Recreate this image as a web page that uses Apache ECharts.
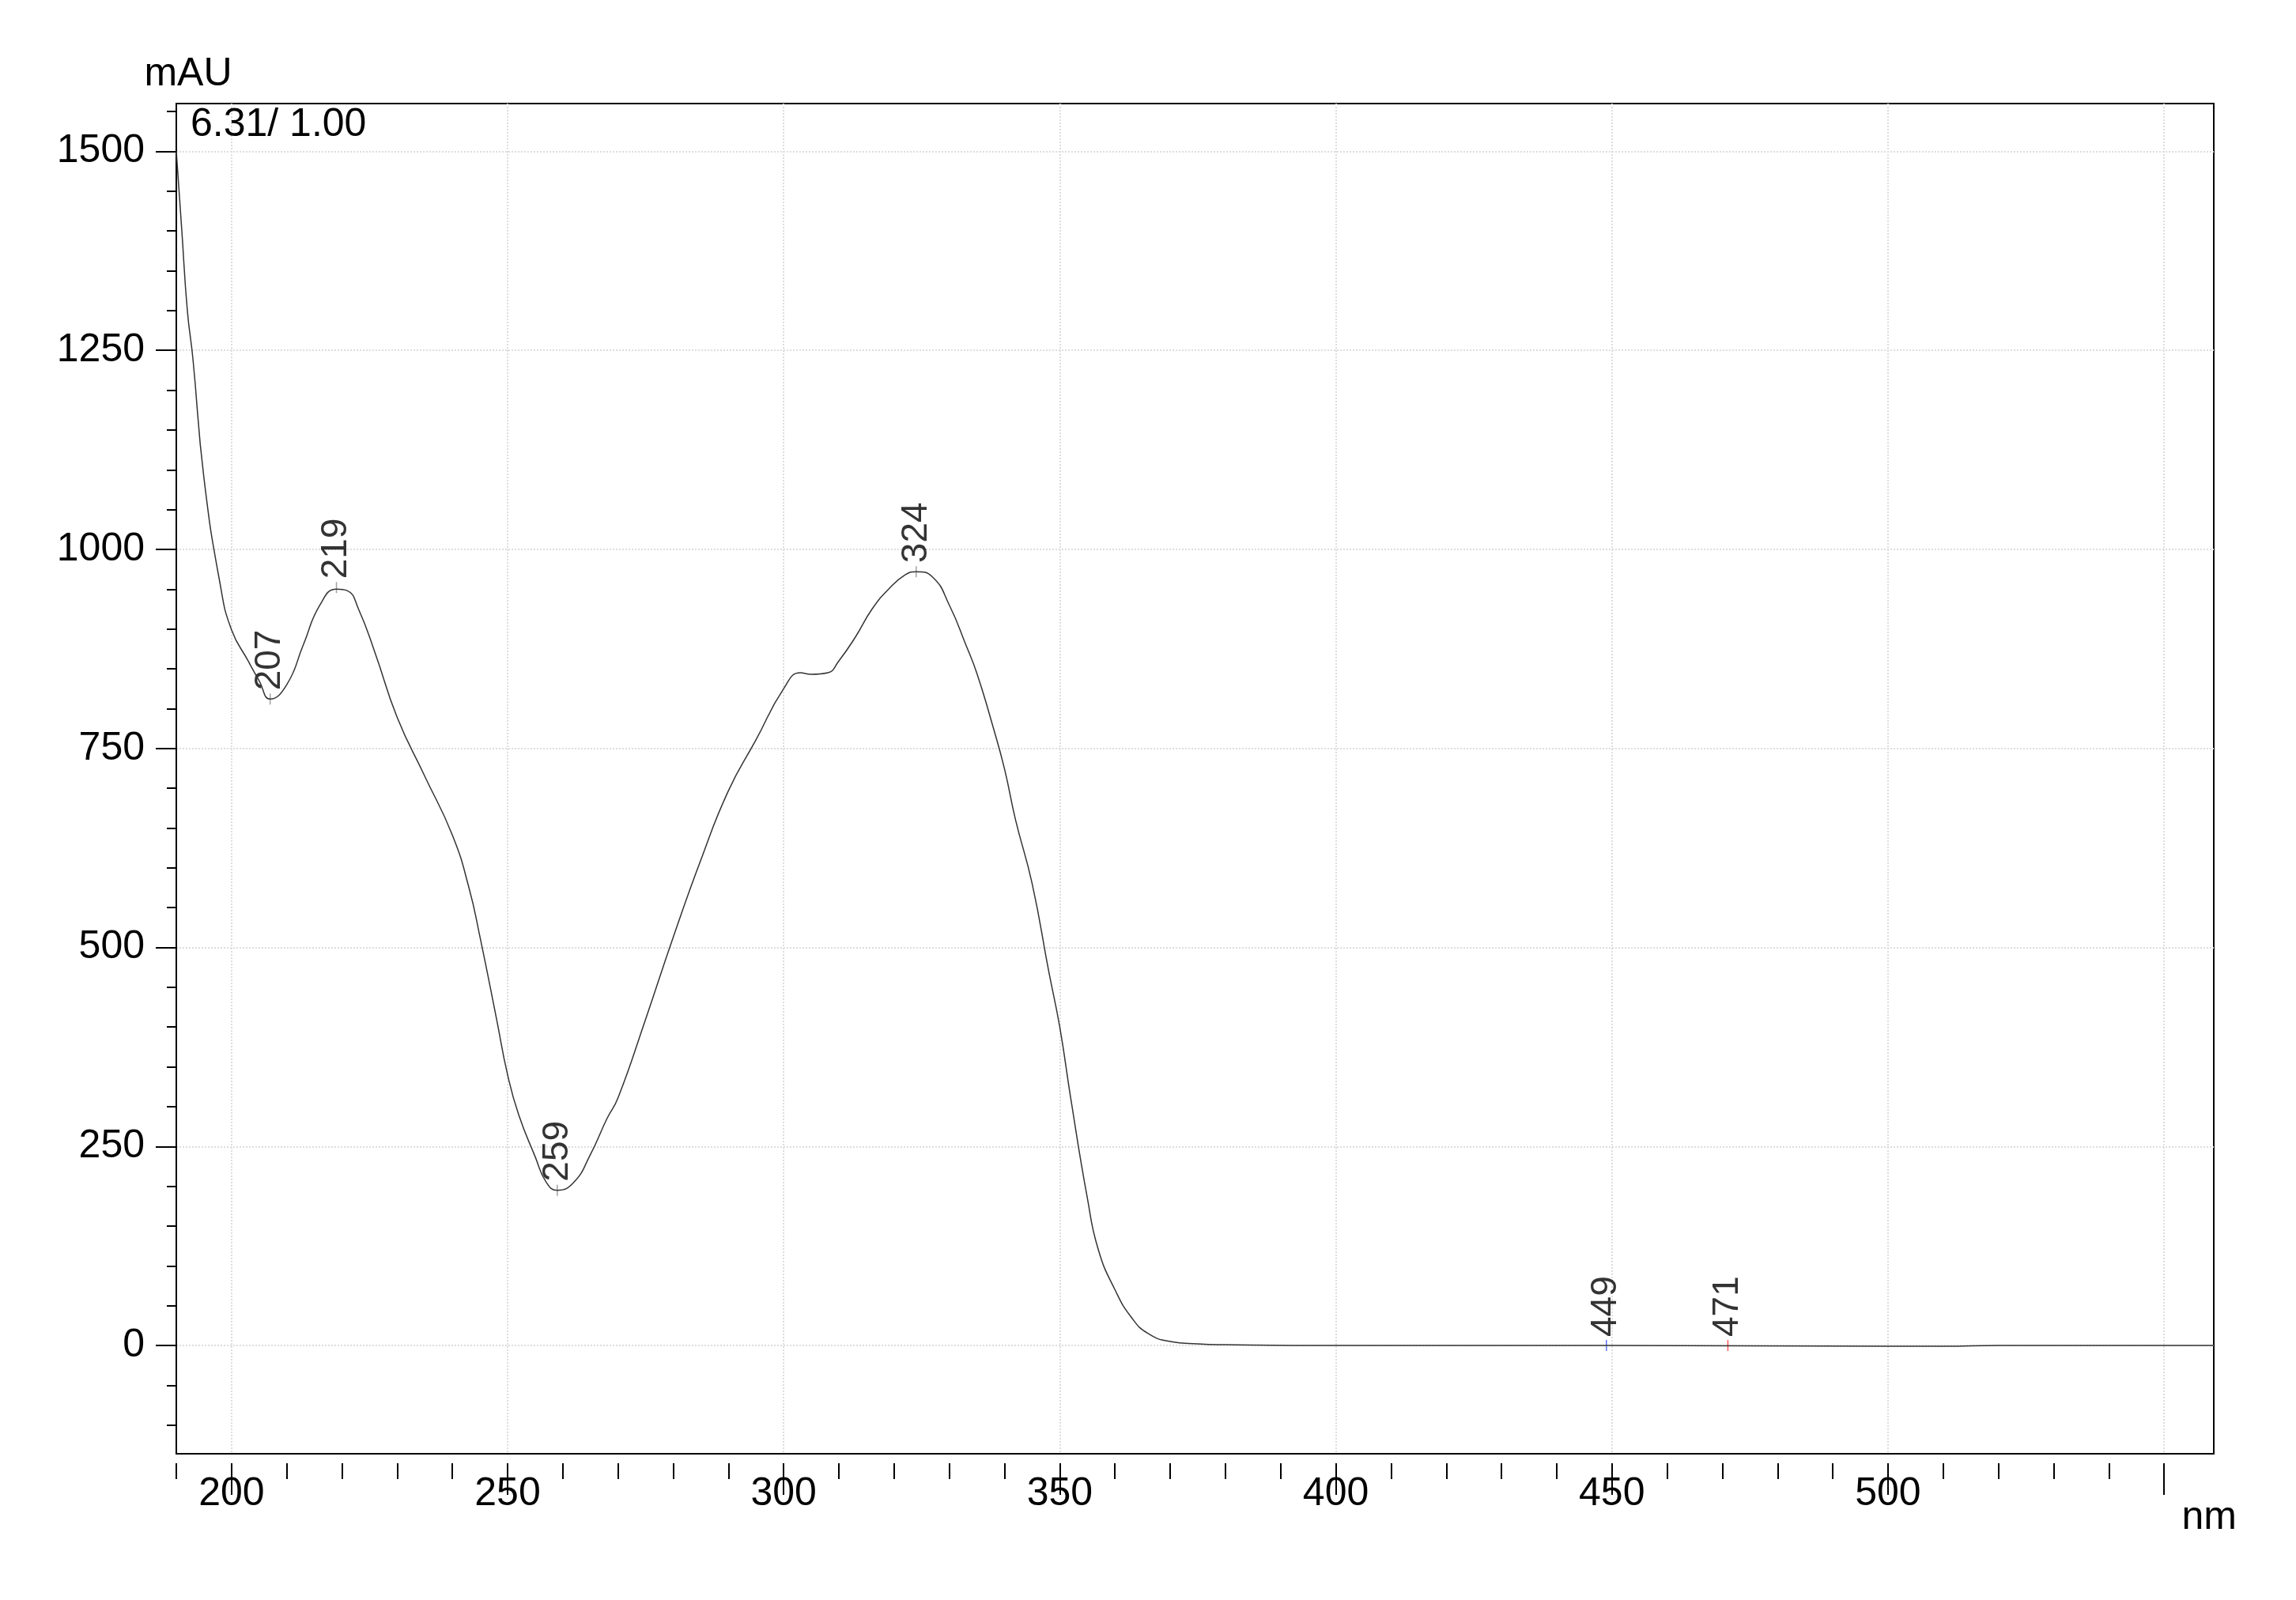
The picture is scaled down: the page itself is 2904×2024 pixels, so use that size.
<!DOCTYPE html>
<html><head><meta charset="utf-8">
<script src="https://cdn.jsdelivr.net/npm/echarts@6/dist/echarts.min.js"></script>
<style>html,body{margin:0;background:#fff}#c{width:2904px;height:2024px}</style>
</head><body><div id="c"></div>
<script>
const wavelengths = [190,191,192,193,195,198,200,203,205,207,210,213,216,219,221,223,226,230,235,240,243,245,248,250,252,255,257,259,262,265,268,270,275,280,285,290,295,300,303,305,308,310,313,316,319,322,324,327,330,333,335,338,340,342,345,348,350,352,355,357,360,363,366,370,375,380,400,450,500,510,520,559];
const absorbance  = [1500,1400,1300,1240,1090,954,899,860,835,812,830,880,930,950,948,925,870,789,715,641,575,513,410,340,290,237,205,195,205,240,285,311,410,513,610,697,761,825,845,843,845,860,890,925,950,968,972,965,930,880,844,775,724,660,580,470,400,310,185,120,70,35,15,5,2,1,0,0,-1,-1,0,0];
const peakNames = ['207','219','259','324','449','471'];
const peakX = [207,219,259,324,449,471];
const peakY = [812,952,195,972,0,0];
const xMajor = [200,250,300,350,400,450,500,550];
const xLabels = [200,250,300,350,400,450,500];
const xMinor = []; for (let v=190; v<=550; v+=10) xMinor.push(v);
const yMajor = [0,250,500,750,1000,1250,1500];
const yMinor = []; for (let v=-100; v<=1550; v+=50) yMinor.push(v);
const FONT = '"Liberation Sans Narrow","Liberation Sans",Arial,sans-serif';
const XMIN=190, XMAX=559, YMIN=-136, YMAX=1560;
const grid = {left:223,right:104,top:131,bottom:185,show:true,borderColor:'#000',borderWidth:2};
const xBase = {type:'value',min:XMIN,max:XMAX,gridIndex:0,position:'bottom'};
const yBase = {type:'value',min:YMIN,max:YMAX,gridIndex:0,position:'left'};
const chart = echarts.init(document.getElementById('c'));
chart.setOption({
  animation:false,
  title:[
    {text:'6.31/ 1.00',left:236,top:128,textStyle:{fontFamily:FONT,fontSize:50,fontWeight:'normal',color:'#000'}},
    {text:'nm',right:70,top:1890,textStyle:{fontFamily:FONT,fontSize:50,fontWeight:'normal',color:'#000'}}
  ],
  grid:grid,
  xAxis:[
    Object.assign({},xBase,{axisLine:{show:false,onZero:false},offset:12,
      axisTick:{show:true,length:20,customValues:xMinor,lineStyle:{color:'#000',width:2}},
      axisLabel:{show:false},
      splitLine:{show:false}}),
    Object.assign({},xBase,{axisLine:{show:false,onZero:false},offset:12,
      axisTick:{show:true,length:40,customValues:xMajor,lineStyle:{color:'#000',width:2}},
      axisLabel:{show:true,customValues:xLabels,margin:14,fontFamily:FONT,fontSize:50,color:'#000'},
      splitLine:{show:true,lineStyle:{color:'#ddd',width:2,type:'dotted'}}})
  ],
  yAxis:[
    Object.assign({},yBase,{axisLine:{show:true,onZero:false,lineStyle:{color:'#000',width:2}},
      axisTick:{show:true,length:12,customValues:yMinor,lineStyle:{color:'#000',width:2}},
      axisLabel:{show:false},splitLine:{show:false}}),
    Object.assign({},yBase,{axisLine:{show:false,onZero:false},name:'mAU',nameLocation:'end',nameGap:12,
      nameTextStyle:{fontFamily:FONT,fontSize:50,color:'#000',align:'center',padding:[0,0,0,30]},
      axisTick:{show:true,length:26,customValues:yMajor,lineStyle:{color:'#000',width:2}},
      axisLabel:{show:true,customValues:yMajor,margin:40,fontFamily:FONT,fontSize:50,color:'#000',formatter:v=>String(v)},
      splitLine:{show:true,lineStyle:{color:'#ddd',width:2,type:'dotted'}}})
  ],
  series:[
    {type:'line',xAxisIndex:1,yAxisIndex:1,smooth:0.5,symbol:'none',
      lineStyle:{color:'#333',width:1.5},
      data:wavelengths.map((w,i)=>[w,absorbance[i]])},
    {type:'scatter',xAxisIndex:1,yAxisIndex:1,symbol:'rect',symbolSize:[1.5,14],
      itemStyle:{color:function(p){return p.dataIndex===4?'#3050ff':(p.dataIndex===5?'#ff3030':'#888');}},
      label:{show:true,position:'top',rotate:90,align:'left',verticalAlign:'middle',distance:4,
        fontFamily:'"Liberation Sans",Arial,sans-serif',fontSize:46,color:'#000',
        formatter:p=>p.name},
      data:peakNames.map((n,i)=>({name:n,value:[peakX[i],peakY[i]]}))}
  ]
});
</script></body></html>
